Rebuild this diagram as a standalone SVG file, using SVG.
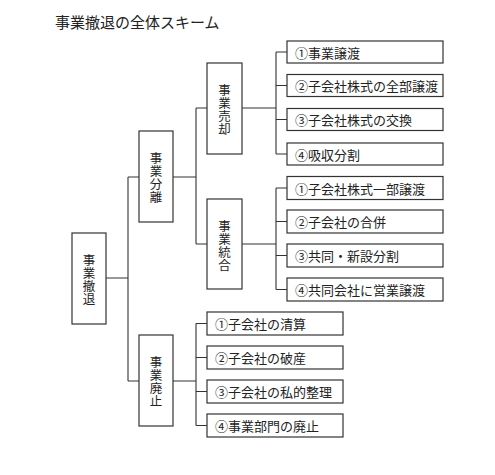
<svg xmlns="http://www.w3.org/2000/svg" width="495" height="475" viewBox="0 0 495 475">
<style>
rect{fill:#fff;stroke:#333;stroke-width:1.2}
path{fill:none;stroke:#333;stroke-width:1.1}
text{font-family:"Noto Sans CJK JP","Noto Sans",sans-serif;font-size:13px;fill:#222;dominant-baseline:central}
.v{text-anchor:middle;font-size:12.5px}
.t{font-size:15px;dominant-baseline:auto}
</style>
<rect x="0" y="0" width="495" height="475" style="fill:#fff;stroke:none"/>
<text class="t" x="55" y="28">事業撤退の全体スキーム</text>
<g id="connectors">
<path d="M106 278H128M128 177V381M128 177H139M128 381H139"/>
<path d="M173 177H196M196 108V244M196 108H207M196 244H207"/>
<path d="M242 108H276M276 52V154M276 52H287M276 85.5H287M276 119.5H287M276 154H287"/>
<path d="M242 244H276M276 188V289.5M276 188H287M276 221.5H287M276 255.5H287M276 289.5H287"/>
<path d="M173 381H196M196 323.5V425.5M196 323.5H207M196 357.5H207M196 391.5H207M196 425.5H207"/>
</g>
<g id="n-tettai"><rect x="72" y="233" width="34" height="91"/><text class="v"><tspan x="89" y="259">事</tspan><tspan x="89" y="272">業</tspan><tspan x="89" y="285">撤</tspan><tspan x="89" y="298">退</tspan></text></g>
<g id="n-bunri"><rect x="139" y="131" width="34" height="91"/><text class="v"><tspan x="156" y="157">事</tspan><tspan x="156" y="170">業</tspan><tspan x="156" y="183">分</tspan><tspan x="156" y="196">離</tspan></text></g>
<g id="n-baikyaku"><rect x="207" y="63" width="35" height="91"/><text class="v"><tspan x="224.5" y="89">事</tspan><tspan x="224.5" y="102">業</tspan><tspan x="224.5" y="115">売</tspan><tspan x="224.5" y="128">却</tspan></text></g>
<g id="n-tougou"><rect x="207" y="199" width="35" height="90"/><text class="v"><tspan x="224.5" y="224.5">事</tspan><tspan x="224.5" y="237.5">業</tspan><tspan x="224.5" y="250.5">統</tspan><tspan x="224.5" y="263.5">合</tspan></text></g>
<g id="n-haishi"><rect x="139" y="335" width="34" height="91"/><text class="v"><tspan x="156" y="361">事</tspan><tspan x="156" y="374">業</tspan><tspan x="156" y="387">廃</tspan><tspan x="156" y="400">止</tspan></text></g>
<g id="s1"><rect x="287" y="41" width="156" height="22"/><text x="295" y="52">①事業譲渡</text></g>
<g id="s2"><rect x="287" y="74.5" width="156" height="22"/><text x="295" y="85.5">②子会社株式の全部譲渡</text></g>
<g id="s3"><rect x="287" y="108.5" width="156" height="22"/><text x="295" y="119.5">③子会社株式の交換</text></g>
<g id="s4"><rect x="287" y="143" width="156" height="22"/><text x="295" y="154">④吸収分割</text></g>
<g id="g1"><rect x="287" y="176.5" width="156" height="23"/><text x="295" y="188">①子会社株式一部譲渡</text></g>
<g id="g2"><rect x="287" y="210" width="156" height="23"/><text x="295" y="221.5">②子会社の合併</text></g>
<g id="g3"><rect x="287" y="244" width="156" height="23"/><text x="295" y="255.5">③共同・新設分割</text></g>
<g id="g4"><rect x="287" y="278" width="156" height="23"/><text x="295" y="289.5">④共同会社に営業譲渡</text></g>
<g id="h1"><rect x="207" y="312" width="136" height="23"/><text x="215" y="323.5">①子会社の清算</text></g>
<g id="h2"><rect x="207" y="346" width="136" height="23"/><text x="215" y="357.5">②子会社の破産</text></g>
<g id="h3"><rect x="207" y="380" width="136" height="23"/><text x="215" y="391.5">③子会社の私的整理</text></g>
<g id="h4"><rect x="207" y="414" width="136" height="23"/><text x="215" y="425.5">④事業部門の廃止</text></g>
</svg>
